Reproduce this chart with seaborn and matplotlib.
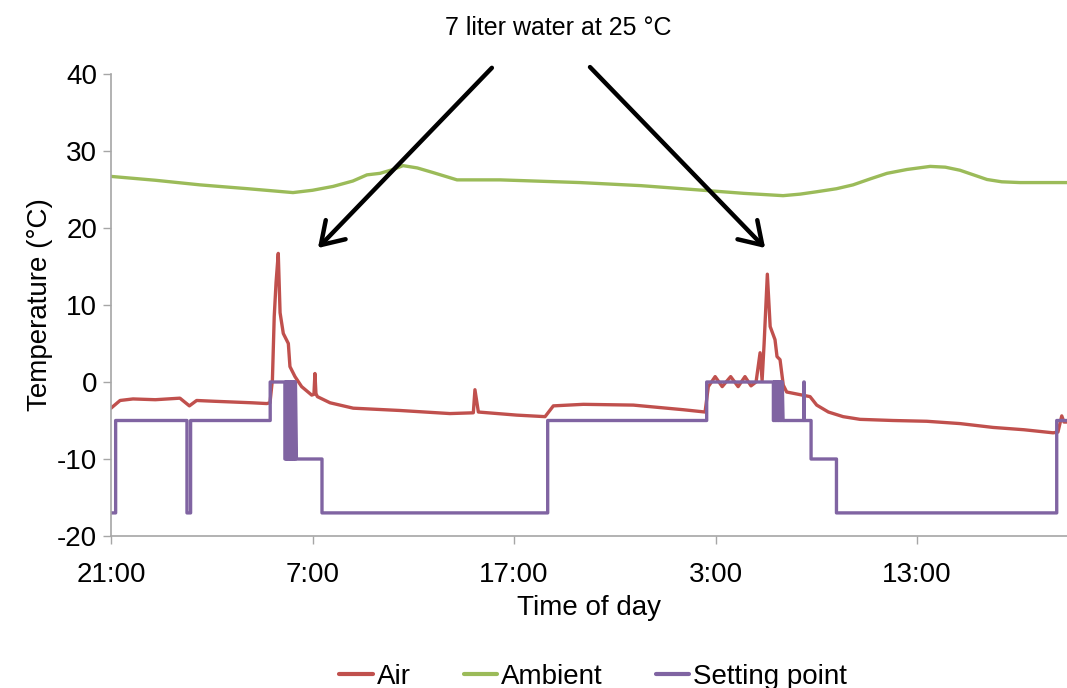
import matplotlib
matplotlib.use("Agg")
import matplotlib.pyplot as plt
import seaborn as sns
import pandas as pd

# ---- data (hours since 21:00) ----
air_t = [0.00, 0.45, 1.09, 2.20, 3.42, 3.89, 4.25, 5.10, 6.05, 7.00, 7.73, 7.89, 8.01, 8.10, 8.19, 8.30,
         8.39, 8.55, 8.80, 8.88, 9.13, 9.46, 9.96, 10.07, 10.12, 10.17, 10.24, 10.87, 12.02, 14.34,
         16.82, 17.98, 18.06, 18.23, 20.13, 21.54, 21.95, 23.44, 25.92, 28.40, 29.48, 29.64,
         29.98, 30.33, 30.75, 31.12, 31.46, 31.76, 32.01, 32.21, 32.31, 32.41, 32.57, 32.71, 32.95,
         33.05, 33.20, 33.36, 33.53, 34.69, 35.02, 35.60, 36.33, 37.17, 38.80, 40.48, 42.13, 43.77, 45.30,
         46.75, 46.99, 47.18, 47.29, 47.44]
air_v = [-3.4, -2.4, -2.2, -2.3, -2.1, -3.1, -2.4, -2.5, -2.6, -2.7, -2.8, -2.7, 0.3, 8.5, 12.9, 16.7,
         9.0, 6.3, 5.0, 2.0, 0.7, -0.6, -1.7, -1.6, 1.1, -1.5, -1.9, -2.7, -3.4, -3.7,
         -4.1, -4.0, -1.0, -3.9, -4.3, -4.5, -3.1, -2.9, -3.0, -3.6, -3.9, -0.6,
         0.7, -0.6, 0.7, -0.6, 0.7, -0.5, 0.0, 3.8, 0.2, 5.0, 14.0, 7.2, 5.5,
         3.3, 2.9, -0.4, -1.3, -1.9, -3.0, -3.9, -4.5, -4.85, -5.0, -5.1, -5.4, -5.9, -6.2,
         -6.6, -6.5, -4.4, -5.2, -5.2]

amb_t = [0.00, 2.20, 4.42, 6.80, 9.03, 10.00, 11.02, 12.00, 12.70, 13.35, 14.00, 14.49, 15.20, 15.98,
         17.17, 19.31, 23.28, 26.30, 29.38, 31.40, 33.35, 34.20, 35.00, 36.00, 36.82, 37.70, 38.51,
         39.50, 40.65, 41.40, 42.13, 42.80, 43.47, 44.20, 45.11, 47.44]
amb_v = [26.7, 26.2, 25.6, 25.1, 24.6, 24.9, 25.4, 26.1, 26.9, 27.1, 27.6, 28.1, 27.8, 27.2,
         26.25, 26.25, 25.9, 25.5, 24.9, 24.5, 24.2, 24.4, 24.7, 25.1, 25.6, 26.4, 27.1,
         27.6, 28.0, 27.9, 27.5, 26.9, 26.3, 26.0, 25.9, 25.9]

sp_t = [0.00, 0.23, 0.23, 3.77, 3.77, 3.95, 3.95, 7.90, 7.90, 8.63,
        8.63, 8.67, 8.67, 8.71, 8.71, 8.75, 8.75, 8.79, 8.79, 8.83, 8.83, 8.87, 8.87, 8.91,
        8.91, 8.95, 8.95, 8.99, 8.99, 9.03, 9.03, 9.07, 9.07, 9.11, 9.11, 9.15, 9.15, 9.20,
        10.47, 10.47, 21.67, 21.67, 29.56, 29.56, 32.87,
        32.87, 32.91, 32.91, 32.95, 32.95, 32.99, 32.99, 33.03, 33.03, 33.07, 33.07, 33.11,
        33.11, 33.15, 33.15, 33.19, 33.19, 33.23, 33.23, 33.27, 33.27, 33.31, 33.31, 33.35,
        34.38, 34.38, 34.40, 34.40, 34.74, 34.74, 36.00, 36.00, 46.93, 46.93, 47.44]
sp_v = [-17, -17, -5, -5, -17, -17, -5, -5, 0, 0,
        -10, -10, 0, 0, -10, -10, 0, 0, -10, -10, 0, 0, -10, -10,
        0, 0, -10, -10, 0, 0, -10, -10, 0, 0, -10, -10, 0, -10,
        -10, -17, -17, -5, -5, 0, 0,
        -5, -5, 0, 0, -5, -5, 0, 0, -5, -5, 0, 0,
        -5, -5, 0, 0, -5, -5, 0, 0, -5, -5, 0, -5,
        -5, 0, 0, -5, -5, -10, -10, -17, -17, -5, -5]

series_names = ["Air", "Ambient", "Setting point"]
colors = ["#C0504D", "#9BBB59", "#8064A2"]
x_ticks = [0, 10, 20, 30, 40]
x_ticklabels = ["21:00", "7:00", "17:00", "3:00", "13:00"]
y_ticks = [-20, -10, 0, 10, 20, 30, 40]

df = pd.concat([
    pd.DataFrame({"t": air_t, "v": air_v, "series": "Air"}),
    pd.DataFrame({"t": amb_t, "v": amb_v, "series": "Ambient"}),
    pd.DataFrame({"t": sp_t, "v": sp_v, "series": "Setting point"}),
], ignore_index=True)

sns.set_style("ticks")
plt.rcParams["font.family"] = ["Liberation Sans", "DejaVu Sans"]
plt.rcParams["axes.unicode_minus"] = False
plt.rcParams["text.color"] = "black"
plt.rcParams["axes.labelcolor"] = "black"

fig = plt.figure(figsize=(10.67, 6.88), dpi=100)
ax = fig.add_axes([111 / 1067, 1 - 536 / 688, 1 - 111 / 1067, (536 - 74) / 688])

sns.lineplot(data=df, x="t", y="v", hue="series", hue_order=series_names,
             palette=colors, sort=False, estimator=None, units="series",
             linewidth=2.4, ax=ax, legend=True)

ax.set_xlim(0, 47.44)
ax.set_ylim(-20, 40)
ax.set_xticks(x_ticks)
ax.set_xticklabels(x_ticklabels)
ax.set_yticks(y_ticks)
ax.tick_params(axis="both", labelsize=20, labelcolor="black", length=6, width=1,
               direction="out", color="#A6A6A6")
ax.tick_params(axis="x", pad=13)
ax.tick_params(axis="y", pad=4)
for side in ["top", "right"]:
    ax.spines[side].set_visible(False)
for side in ["left", "bottom"]:
    ax.spines[side].set_color("#A6A6A6")
    ax.spines[side].set_linewidth(1.2)
ax.set_xlabel("Time of day", fontsize=20, labelpad=5, color="black")
ax.set_ylabel("Temperature (°C)", fontsize=20, labelpad=3, color="black")

# legend at bottom
handles, labels = ax.get_legend_handles_labels()
ax.get_legend().remove()
for h in handles:
    h.set_linewidth(3)
leg = fig.legend(handles, labels, loc="center", bbox_to_anchor=(0.556, 0.016), ncol=3,
                 frameon=False, fontsize=20, handlelength=1.2, handletextpad=0.15,
                 columnspacing=1.9, borderpad=0)
for txt in leg.get_texts():
    txt.set_color("black")

# annotation
ax.text(22.2, 46.0, "7 liter water at 25 °C", ha="center", va="center",
        fontsize=18, color="black", clip_on=False)
arrow_kw = dict(arrowstyle="->,head_length=0.7,head_width=0.45", lw=3.2,
                color="black", mutation_scale=22, shrinkA=0, shrinkB=0)
ax.annotate("", xy=(10.27, 17.4), xytext=(18.9, 40.8), arrowprops=arrow_kw,
            annotation_clip=False)
ax.annotate("", xy=(32.46, 17.4), xytext=(23.77, 40.9), arrowprops=arrow_kw,
            annotation_clip=False)

fig.savefig("out.png", dpi=100)
